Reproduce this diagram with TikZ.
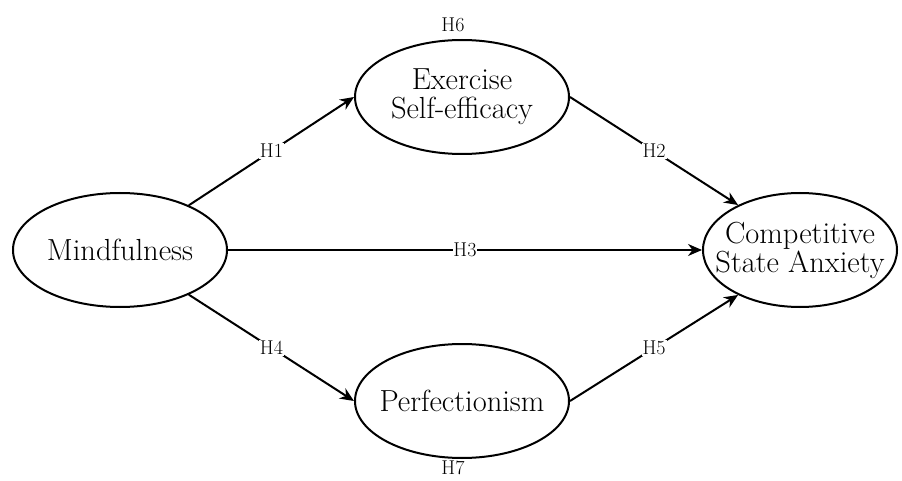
\documentclass[tikz,border=0pt]{standalone}
\usepackage{fontspec}
\usetikzlibrary{shapes.geometric,arrows.meta}
\begin{document}
\begin{tikzpicture}[x=1pt,y=1pt,
  latent/.style={ellipse, draw, line width=2pt, minimum width=214pt, minimum height=114pt, inner sep=-40pt, align=center, font=\fontsize{30.5}{29}\selectfont},
  hpath/.style={line width=2pt, -{Stealth[length=14pt,width=12pt]}},
  hlab/.style={fill=white, inner sep=1pt, font=\fontsize{20}{22}\selectfont}]
\useasboundingbox (0,0) rectangle (902,480);
\node[latent] (mind) at (120,230) {Mindfulness};
\node[latent] (ese) at (462,383) {Exercise\\Self-efficacy};
\node[latent] (perf) at (462,79) {Perfectionism};
\node[latent, minimum width=194pt] (csa) at (800,230) {Competitive\\State Anxiety};
\node[hlab] (h6) at (453,455) {H6};
\node[hlab, inner sep=0pt] (h7) at (453,12) {H7};
\draw[hpath] (mind.33.5) -- node[hlab] (h1) {H1} (ese.west);
\draw[hpath] (ese.east) -- node[hlab] (h2) {H2} (csa.144);
\draw[hpath] (mind.east) -- node[hlab, inner sep=0pt] (h3) {H3} (csa.west);
\draw[hpath] (mind.-33.5) -- node[hlab] (h4) {H4} (perf.west);
\draw[hpath] (perf.east) -- node[hlab] (h5) {H5} (csa.216);
\end{tikzpicture}
\end{document}
